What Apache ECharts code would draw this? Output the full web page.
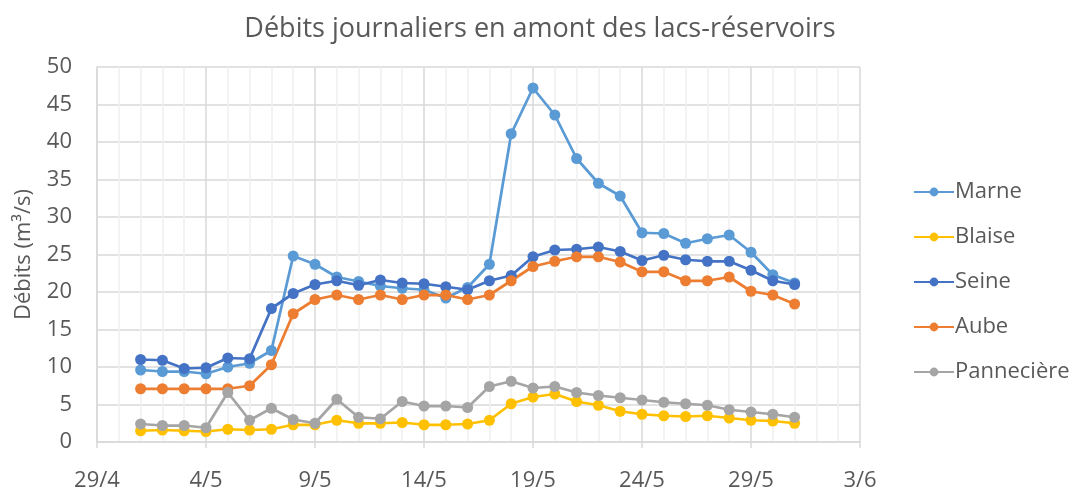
<!DOCTYPE html>
<html>
<head>
<meta charset="utf-8">
<script src="https://cdn.jsdelivr.net/npm/echarts@6/dist/echarts.min.js"></script>
<style>
  html, body { margin: 0; padding: 0; background: #fff; }
  #chart { width: 1080px; height: 491px; }
</style>
</head>
<body>
<div id="chart"></div>
<script>
// jours de mai (1/5 -> 31/5)
var jours = [1,2,3,4,5,6,7,8,9,10,11,12,13,14,15,16,17,18,19,20,21,22,23,24,25,26,27,28,29,30,31];
var tickLabels = ['29/4','4/5','9/5','14/5','19/5','24/5','29/5','3/6'];

var marne  = [9.6,9.4,9.4,9.1,10.0,10.5,12.2,24.8,23.7,22.0,21.4,20.8,20.5,20.3,19.2,20.6,23.7,41.1,47.2,43.6,37.8,34.5,32.8,27.9,27.8,26.5,27.1,27.6,25.3,22.3,21.2];
var blaise = [1.5,1.6,1.5,1.4,1.7,1.6,1.7,2.3,2.3,2.9,2.5,2.5,2.6,2.3,2.3,2.4,2.9,5.1,6.0,6.4,5.4,4.9,4.1,3.7,3.5,3.4,3.5,3.2,2.9,2.8,2.5];
var seine  = [11.0,10.9,9.8,9.9,11.2,11.1,17.8,19.8,21.0,21.5,20.9,21.6,21.2,21.1,20.7,20.3,21.5,22.2,24.7,25.6,25.7,26.0,25.4,24.2,24.9,24.3,24.1,24.1,22.9,21.5,21.0];
var aube   = [7.1,7.1,7.1,7.1,7.1,7.5,10.3,17.1,19.0,19.6,19.0,19.6,19.0,19.6,19.6,19.0,19.6,21.5,23.4,24.1,24.7,24.7,24.0,22.7,22.7,21.5,21.5,22.0,20.1,19.6,18.4];
var pann   = [2.4,2.2,2.2,1.9,6.6,2.9,4.5,3.0,2.5,5.7,3.3,3.1,5.4,4.8,4.8,4.6,7.4,8.1,7.2,7.4,6.6,6.2,5.9,5.6,5.3,5.1,4.9,4.3,4.0,3.7,3.3];

var dom = document.getElementById("chart");
var myChart = echarts.init(dom);

var FONT = 'Open Sans';
var GRIS = '#595959';

// x : nombre de jours depuis le 29/4
function pts(vals) {
    var out = [];
    for (var i = 0; i < vals.length; i++) {
        out.push([jours[i] + 1, vals[i]]);
    }
    return out;
}

function serie(name, color, vals) {
    return {
        name: name,
        type: 'line',
        data: pts(vals),
        symbol: 'circle',
        symbolSize: 11,
        lineStyle: { color: color, width: 2.75 },
        itemStyle: { color: color },
        emphasis: { disabled: true }
    };
}

var option = {
    animation: false,
    backgroundColor: '#fff',
    title: {
        text: 'Débits journaliers en amont des lacs-réservoirs',
        left: 'center',
        top: 11,
        textStyle: { fontFamily: FONT, fontSize: 27, fontWeight: 'normal', color: GRIS }
    },
    legend: {
        orient: 'vertical',
        left: 908,
        top: 176,
        itemWidth: 40,
        itemHeight: 11,
        itemGap: 23,
        textStyle: { fontFamily: FONT, fontSize: 22, color: GRIS, padding: [0, 0, 0, -4] },
        data: ['Marne', 'Blaise', 'Seine', 'Aube', 'Pannecière']
    },
    grid: {
        left: 97,
        right: 220,
        top: 67,
        bottom: 49,
        outerBoundsMode: 'none'
    },
    xAxis: {
        type: 'value',
        min: 0,
        max: 35,
        interval: 5,
        axisLine: { show: true, lineStyle: { color: '#D9D9D9', width: 1.5 } },
        axisTick: { show: true, length: 6, lineStyle: { color: '#D9D9D9', width: 1.5 } },
        axisLabel: {
            fontFamily: FONT, fontSize: 22, color: GRIS, margin: 28,
            formatter: function (v) { return tickLabels[Math.round(v / 5)]; }
        },
        splitLine: { show: true, lineStyle: { color: '#D9D9D9', width: 1.5 } },
        minorTick: { show: false, splitNumber: 5 },
        minorSplitLine: { show: true, lineStyle: { color: '#EFEFEF', width: 1.5 } }
    },
    yAxis: {
        type: 'value',
        min: 0,
        max: 50,
        interval: 5,
        name: 'Débits (m³/s)',
        nameLocation: 'middle',
        nameGap: 62,
        nameTextStyle: { fontFamily: FONT, fontSize: 22, color: GRIS },
        axisLine: { show: true, lineStyle: { color: '#D9D9D9', width: 1.5 } },
        axisTick: { show: false },
        axisLabel: { fontFamily: FONT, fontSize: 22, color: GRIS, margin: 25 },
        splitLine: { show: true, lineStyle: { color: '#D9D9D9', width: 1.5 } }
    },
    series: [
        serie('Marne', '#5B9BD5', marne),
        serie('Blaise', '#FFC000', blaise),
        serie('Seine', '#4472C4', seine),
        serie('Aube', '#ED7D31', aube),
        serie('Pannecière', '#A5A5A5', pann)
    ]
};

myChart.setOption(option);
</script>
</body>
</html>
